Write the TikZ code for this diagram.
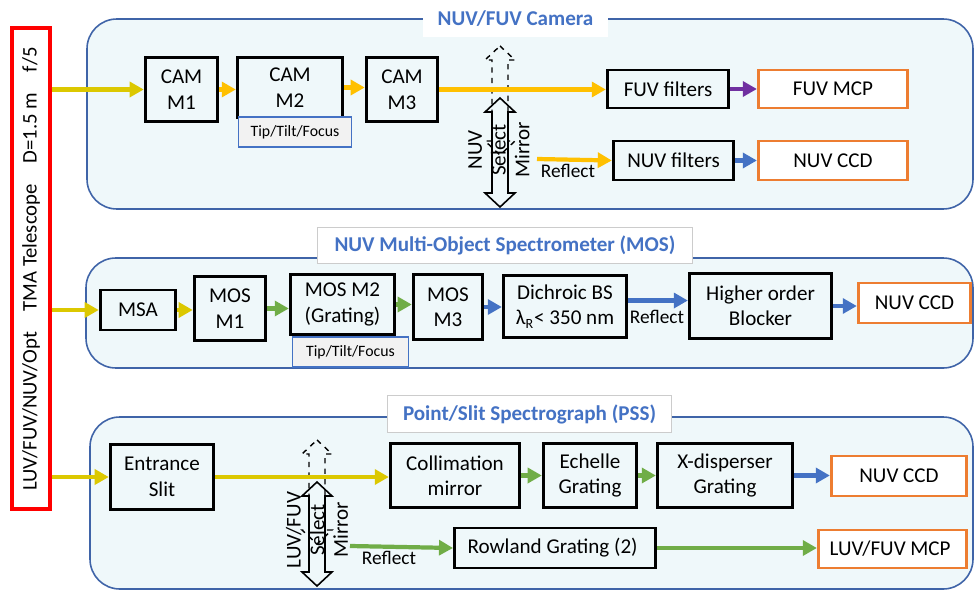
\documentclass[tikz,border=0pt]{standalone}
\usepackage{fontspec}
\setmainfont{Carlito}
\usetikzlibrary{arrows.meta}

\definecolor{telyel}{HTML}{DCC800}
\definecolor{camyel}{HTML}{FFC000}
\definecolor{mosgreen}{HTML}{70AD47}
\definecolor{beamblue}{HTML}{4472C4}
\definecolor{fuvpurple}{HTML}{7030A0}
\definecolor{detorange}{HTML}{ED7D31}
\definecolor{panelfill}{HTML}{EFF8FA}
\definecolor{panelline}{HTML}{3F64A8}
\definecolor{tipfill}{HTML}{F2F2F2}

\begin{document}
\begin{tikzpicture}[x=0.02cm, y=-0.02cm,
  % box from corner (#1,#2) to corner (#3,#4), in picture units
  rect/.style n args={4}{minimum width={(#3-#1)*0.5669pt}, minimum height={(#4-#2)*0.5669pt},
    at={({(#1+#3)/2},{(#2+#4)/2})}},
  box/.style={line width=1.6pt, inner sep=0pt, align=center, font=\fontsize{12}{14.5}\selectfont},
  blk/.style={box, draw=black},
  det/.style={box, draw=detorange, fill=white},
  tipbox/.style={draw=beamblue, line width=0.8pt, fill=tipfill, inner sep=0pt, font=\fontsize{9}{10}\selectfont},
  panel/.style={draw=panelline, line width=0.9pt, fill=panelfill, rounded corners=17pt},
  ttl/.style={draw=black!20, line width=0.5pt, fill=white, inner sep=0pt, text=beamblue, font=\fontsize{12}{14}\selectfont\bfseries},
  telbox/.style={draw=red, line width=1.8pt, inner sep=0pt},
  lbl/.style={font=\fontsize{11}{13}\selectfont},
  mtxt/.style={rotate=90, align=center, font=\fontsize{12}{13.5}\selectfont},
  mir/.style={line width=0.9pt},
  mirdash/.style={line width=0.8pt, dashed},
  beam/.style={line width=2.4pt},
  yarr/.style={beam, draw=telyel, -{Triangle[length=8pt,width=8.5pt,fill=telyel]}},
  oarr/.style={beam, draw=camyel, -{Triangle[length=8pt,width=8.5pt,fill=camyel]}},
  garr/.style={beam, draw=mosgreen, -{Triangle[length=8pt,width=8.5pt,fill=mosgreen]}},
  barr/.style={beam, draw=beamblue, -{Triangle[length=8pt,width=8.5pt,fill=beamblue]}},
  parr/.style={beam, draw=fuvpurple, -{Triangle[length=8pt,width=8.5pt,fill=fuvpurple]}}]
  \useasboundingbox (0,0) rectangle (974,598);

  % panels
  \draw[panel] (87,19) rectangle (973,209);
  \draw[panel] (86,258) rectangle (973,368);
  \draw[panel] (90,417) rectangle (973,589);

  \node[ttl, draw=none, rect={423}{0}{608}{37}] (camttl) {NUV/FUV Camera};
  \node[ttl, rect={317}{227}{693}{264}] (mosttl) {NUV Multi-Object Spectrometer (MOS)};
  \node[ttl, rect={387}{395}{672}{433}] (pssttl) {Point/Slit Spectrograph (PSS)};

  % telescope
  \node[telbox, rect={12}{27}{50}{510}] (tel) {};
  \node[rotate=90, font=\fontsize{11.8}{14}\selectfont] (teltxt) at (31,269)
    {LUV/FUV/NUV/Opt\quad TMA Telescope\quad D=1.5 m\quad f/5};

  % select mirrors: dashed = out position, solid = in position
  \foreach \x / \ya / \yb / \s in {
    500 / 46 / 98 / 81,
    317 / 440 / 482 / 76
  }{
    \draw[mirdash] (\x,\ya) -- ++(15,14) -- ++(-7,0) -- ++(0,\s) -- ++(7,0) -- ++(-15,14)
      -- ++(-15,-14) -- ++(7,0) -- ++(0,-\s) -- ++(-7,0) -- cycle;
    \draw[mir] (\x,\yb) -- ++(15,14) -- ++(-7,0) -- ++(0,\s) -- ++(7,0) -- ++(-15,14)
      -- ++(-15,-14) -- ++(7,0) -- ++(0,-\s) -- ++(-7,0) -- cycle;
  }

  % optics (black boxes)
  \foreach \nm/\xa/\ya/\xb/\yb/\txt in {
    cama/145/57/218/122/{CAM\\M1},
    camb/237/57/343/118/{CAM\\M2},
    camc/366/57/438/122/{CAM\\M3},
    fuvf/607/70/729/108/{FUV filters},
    nuvf/613/141/734/180/{NUV filters},
    msa/100/290/176/330/{MSA},
    mosa/194/276/266/341/{MOS\\M1},
    mosb/290/274/395/335/{MOS M2\\(Grating)},
    mosc/413/274/483/340/{MOS\\M3},
    dbs/503/275/627/338/{Dichroic BS\\λ\textsubscript{R}< 350 nm},
    hob/689/273/832/339/{Higher order\\Blocker},
    slit/110/444/214/510/{Entrance\\Slit},
    colm/390/443/520/508/{Collimation\\mirror},
    ech/543/443/637/508/{Echelle\\Grating},
    xdis/657/443/793/508/{X-disperser\\Grating},
    rowl/454/528/656/568/{Rowland Grating (2)}
  }{
    \node[blk, rect={\xa}{\ya}{\xb}{\yb}] (\nm) {\txt};
  }

  % detectors (orange boxes)
  \foreach \nm/\xa/\ya/\xb/\yb/\txt in {
    fuvmcp/758/70/908/108/{FUV MCP},
    nuvccd/758/141/908/180/{NUV CCD},
    mosccd/858/283/971/323/{NUV CCD},
    pssccd/831/456/967/496/{NUV CCD},
    luvmcp/818/530/967/568/{LUV/FUV MCP}
  }{
    \node[det, rect={\xa}{\ya}{\xb}{\yb}] (\nm) {\txt};
  }

  \node[tipbox, rect={238}{117}{352}{147}] (camtip) {Tip/Tilt/Focus};
  \node[tipbox, rect={292}{337}{409}{367}] (mostip) {Tip/Tilt/Focus};

  % camera beams
  \draw[yarr] (tel.east |- cama.west) -- (cama.west);
  \draw[oarr] (cama.east) -- (cama.east -| camb.west);
  \draw[oarr] (camb.east) -- (camb.east -| camc.west);
  \draw[oarr] (camc.east) -- (camc.east -| fuvf.west);
  \draw[parr] (fuvf.east) -- (fuvmcp.west);
  \coordinate (camrfl) at (537,159);
  \draw[oarr] (camrfl) -- (nuvf.west);
  \node[lbl] (camrfltxt) at (568,171) {Reflect};
  \draw[barr] (nuvf.east) -- (nuvccd.west);

  % MOS beams
  \draw[yarr] (tel.east |- msa.west) -- (msa.west);
  \draw[yarr] (msa.east) -- (msa.east -| mosa.west);
  \draw[garr] (mosa.east) -- (mosa.east -| mosb.west);
  \draw[garr] (mosb.east) -- (mosb.east -| mosc.west);
  \draw[barr] (mosc.east) -- (mosc.east -| dbs.west);
  \draw[barr] ([yshift=3.4pt]dbs.east) -- ([yshift=3.4pt]dbs.east -| hob.west);
  \node[lbl] (mosrfltxt) at (657,317) {Reflect};
  \draw[barr] (hob.east) -- (hob.east -| mosccd.west);

  % PSS beams
  \draw[yarr] (tel.east |- slit.west) -- (slit.west);
  \draw[yarr] (slit.east) -- (slit.east -| colm.west);
  \draw[garr] (colm.east) -- (colm.east -| ech.west);
  \draw[garr] (ech.east) -- (ech.east -| xdis.west);
  \draw[barr] (xdis.east) -- (xdis.east -| pssccd.west);
  \coordinate (pssrfl) at (350,546);
  \draw[garr] (pssrfl) -- (rowl.west);
  \node[lbl] (pssrfltxt) at (389,558) {Reflect};
  \draw[garr] (rowl.east) -- (rowl.east -| luvmcp.west);

  % mirror labels
  \node[mtxt] (camsel) at (499,150) {NUV\\Select\\Mirror};
  \node[mtxt] (psssel) at (317,530) {LUV/FUV\\Select\\Mirror};
\end{tikzpicture}
\end{document}
